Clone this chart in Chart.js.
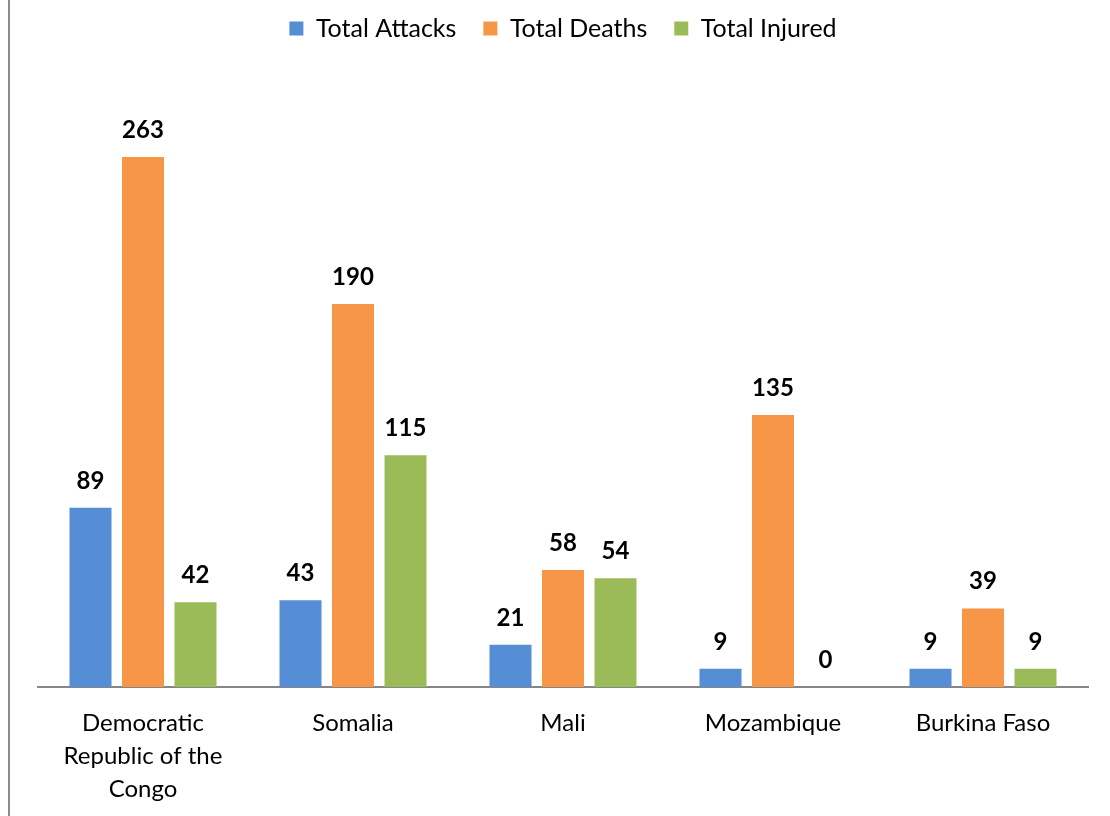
<!DOCTYPE html>
<html>
<head>
<meta charset="utf-8">
<script src="https://cdn.jsdelivr.net/npm/chart.js@4.4.1/dist/chart.umd.min.js"></script>
<style>
  html, body { margin:0; padding:0; background:#fff; }
  #wrap { position:relative; width:1110px; height:816px; }
  #frame { position:absolute; left:8px; top:0; width:2px; height:816px; background:#8c8c8c; }
  canvas { position:absolute; left:0; top:0; }
</style>
</head>
<body>
<div id="wrap">
  <div id="frame"></div>
  <canvas id="chart" width="1110" height="816"></canvas>
</div>
<script>
const countries = [
  ['Democratic', 'Republic of the', 'Congo'],
  'Somalia',
  'Mali',
  'Mozambique',
  'Burkina Faso'
];
const totalAttacks = [89, 43, 21, 9, 9];
const totalDeaths  = [263, 190, 58, 135, 39];
const totalInjured = [42, 115, 54, 0, 9];

const FONT = 'Lato, "Open Sans", sans-serif';

// value labels above each bar
const barLabels = {
  id: 'barLabels',
  afterDatasetsDraw(chart){
    const ctx = chart.ctx;
    ctx.save();
    ctx.font = 'bold 24px ' + FONT;
    ctx.fillStyle = '#000';
    ctx.textAlign = 'center';
    ctx.textBaseline = 'alphabetic';
    chart.data.datasets.forEach((ds, i) => {
      chart.getDatasetMeta(i).data.forEach((bar, j) => {
        ctx.fillText(String(ds.data[j]), bar.x, bar.y - 19);
      });
    });
    ctx.restore();
  }
};

const ctx = document.getElementById('chart').getContext('2d');
new Chart(ctx, {
  type: 'bar',
  data: {
    labels: countries,
    datasets: [
      { label:'Total Attacks', data: totalAttacks, backgroundColor:'#558ed5' },
      { label:'Total Deaths',  data: totalDeaths,  backgroundColor:'#f79646' },
      { label:'Total Injured', data: totalInjured, backgroundColor:'#9bbb59' }
    ]
  },
  options: {
    responsive: false,
    animation: false,
    layout: { padding: { left:38, right:22, top:-11, bottom:-2 } },
    datasets: { bar: { categoryPercentage:0.75, barPercentage:0.8 } },
    plugins: {
      legend: {
        position: 'top',
        labels: {
          boxWidth:14, boxHeight:14, padding:27,
          color:'#000',
          font: { size:25, family: FONT }
        }
      },
      tooltip: { enabled:false }
    },
    scales: {
      x: {
        grid: { display:false },
        border: { color:'#868686', width:2 },
        ticks: { color:'#000', font:{ size:24, family: FONT, lineHeight:1.375 }, padding:12 }
      },
      y: {
        display:false,
        min:0, max:315.6
      }
    }
  },
  plugins: [barLabels]
});
</script>
</body>
</html>
